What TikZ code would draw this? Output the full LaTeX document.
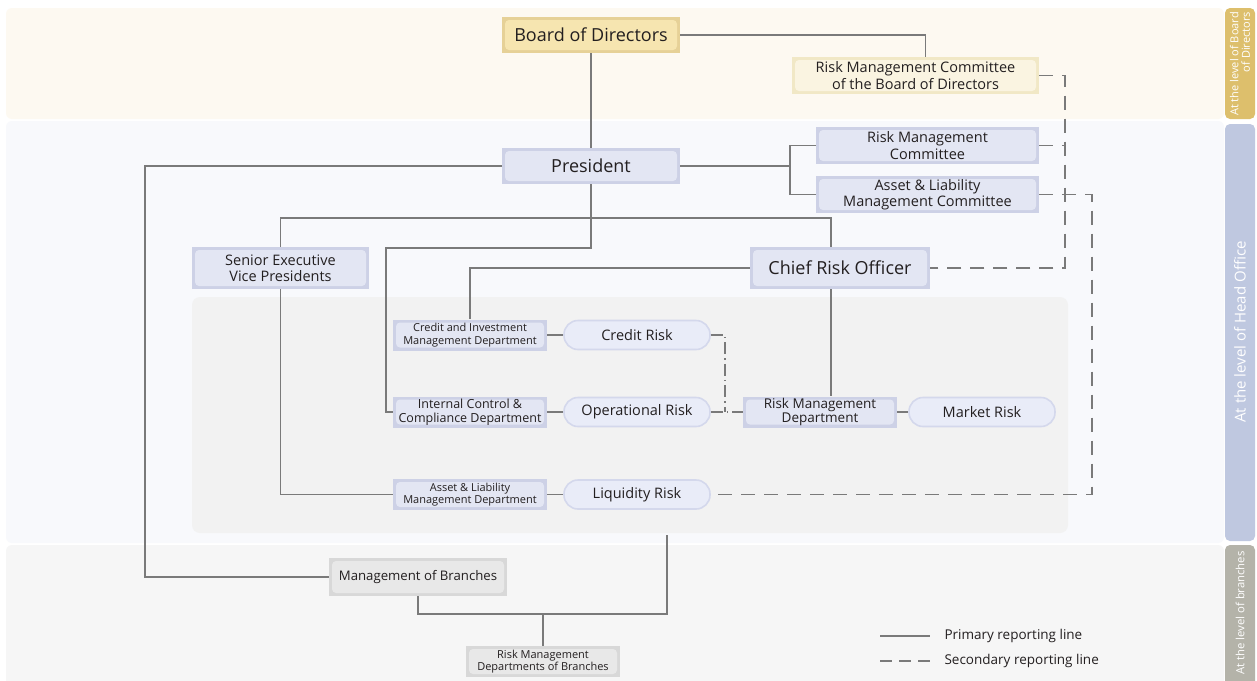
\documentclass[tikz,border=0pt]{standalone}
\usepackage{fontspec}
\setmainfont{Open Sans}
\usetikzlibrary{calc}
\definecolor{ink}{HTML}{231F20}
\definecolor{linegrey}{HTML}{7A7A7A}
\definecolor{bandtop}{HTML}{FDF9F1}
\definecolor{bandmid}{HTML}{F8F9FC}
\definecolor{bandbot}{HTML}{F6F6F6}
\definecolor{panel}{HTML}{F2F2F2}
\definecolor{tabtop}{HTML}{DDBF6C}
\definecolor{tabmid}{HTML}{BFC8E0}
\definecolor{tabbot}{HTML}{B4B3A9}
\definecolor{goldout}{HTML}{E6D197}
\definecolor{goldin}{HTML}{F6E5B0}
\definecolor{paleout}{HTML}{F1E8C6}
\definecolor{palein}{HTML}{FAF4E1}
\definecolor{blueout}{HTML}{CDD1E6}
\definecolor{bluein}{HTML}{E3E6F3}
\definecolor{pillfill}{HTML}{E9ECF8}
\definecolor{pillline}{HTML}{D4D8EC}
\definecolor{greyout}{HTML}{D8D8D8}
\definecolor{greyin}{HTML}{E8E8E8}
\tikzset{
  box/.style 2 args={fill=#1, text=ink, align=center, inner sep=0pt,
    path picture={\fill[#2, rounded corners=4pt]
      ([xshift=3pt,yshift=-3pt]path picture bounding box.north west) rectangle
      ([xshift=-3pt,yshift=3pt]path picture bounding box.south east);}},
  pill/.style={draw=pillline, line width=1.6pt, fill=pillfill, text=ink,
    rounded corners=14pt, minimum width=146pt, minimum height=29pt,
    inner sep=0pt, font=\fontsize{14.5}{17}\selectfont},
  pline/.style={draw=linegrey, line width=1.1pt},
  sline/.style={draw=linegrey, line width=1.1pt, dash pattern=on 14pt off 9pt},
  dline/.style={draw=linegrey, line width=1.1pt, dash pattern=on 12pt off 4pt on 1.5pt off 4pt},
  tabtext/.style={text=white, rotate=90, align=right},
  dept/.style={box={blueout}{bluein}, minimum width=154pt, minimum height=31pt,
    font=\fontsize{11}{12.5}\selectfont},
}
\begin{document}
\begin{tikzpicture}[x=1pt,y=-1pt]
\useasboundingbox (0,0) rectangle (1257,680);
\fill[white] (0,0) rectangle (1257,680);
% level bands
\fill[bandtop, rounded corners=6pt] (6,8) rectangle (1224,119);
\fill[bandmid, rounded corners=6pt] (6,121) rectangle (1224,543);
\fill[bandbot, rounded corners=6pt] (6,545) rectangle (1224,690);
\fill[panel, rounded corners=8pt] (192,297) rectangle (1068,533);
% level tabs
\fill[tabtop, rounded corners=5pt] (1225,8) rectangle (1255,119);
\fill[tabmid, rounded corners=5pt] (1225,124) rectangle (1255,541);
\fill[tabbot, rounded corners=5pt] (1225,545) rectangle (1255,690);
\node[tabtext, font=\fontsize{11}{11.5}\selectfont] (tabA) at (1240,64) {At the level of Board\\of Directors};
\node[tabtext, font=\fontsize{15}{15}\selectfont] (tabB) at (1240,332) {At the level of Head Office};
\node[tabtext, font=\fontsize{11.3}{12}\selectfont] (tabC) at (1240,613) {At the level of branches};

% nodes
\node[box={goldout}{goldin}, minimum width=178pt, minimum height=36pt,
  font=\fontsize{18}{20}\selectfont] (bod) at (591,35) {Board of Directors};
\node[box={paleout}{palein}, minimum width=247pt, minimum height=37pt,
  font=\fontsize{14.5}{16.5}\selectfont] (rmcb) at (915.5,75.5) {Risk Management Committee\\of the Board of Directors};
\node[box={blueout}{bluein}, minimum width=178pt, minimum height=36pt,
  font=\fontsize{18}{20}\selectfont] (pres) at (591,166) {President};
\node[box={blueout}{bluein}, minimum width=223pt, minimum height=37pt,
  font=\fontsize{14.5}{16.5}\selectfont] (rmc) at (927.5,145.5) {Risk Management\\Committee};
\node[box={blueout}{bluein}, minimum width=223pt, minimum height=37pt,
  font=\fontsize{14.5}{16.5}\selectfont] (almc) at (927.5,194.5) {Asset \& Liability\\Management Committee};
\node[box={blueout}{bluein}, minimum width=177pt, minimum height=42pt,
  font=\fontsize{14.5}{16.5}\selectfont] (sevp) at (280.5,268) {Senior Executive\\Vice Presidents};
\node[box={blueout}{bluein}, minimum width=180pt, minimum height=42pt,
  font=\fontsize{18}{20}\selectfont] (cro) at (840,268) {Chief Risk Officer};
\node[dept] (cimd) at (470,335) {Credit and Investment\\Management Department};
\node[pill] (crisk) at (637,335) {Credit Risk};
\node[dept, font=\fontsize{12.5}{13.5}\selectfont] (icc) at (470,412) {Internal Control \&\\Compliance Department};
\node[pill] (oprisk) at (637,412) {Operational Risk};
\node[dept, font=\fontsize{13.5}{14}\selectfont] (rmd) at (820,412) {Risk Management\\Department};
\node[pill] (mrisk) at (982,412) {Market Risk};
\node[dept] (almd) at (470,494.5) {Asset \& Liability\\Management Department};
\node[pill] (lrisk) at (637,494.5) {Liquidity Risk};
\node[box={greyout}{greyin}, minimum width=178pt, minimum height=38pt,
  font=\fontsize{13.2}{15}\selectfont] (mob) at (418,577) {Management of Branches};
\node[box={greyout}{greyin}, minimum width=154pt, minimum height=31pt,
  font=\fontsize{11}{12.5}\selectfont] (rmdb) at (543,661.5) {Risk Management\\Departments of Branches};

% junction points
\coordinate (pj) at (790,166);
\coordinate (icTurn) at (386,248);
\coordinate (hbar) at (831,218);
\coordinate (lt) at (145,166);
\coordinate (bj) at (667,614);
\coordinate (lq) at (667,535);
\coordinate (dA) at (1065,268);
\coordinate (dB) at (1092,194.5);
\coordinate (dc) at (725,335);

% primary reporting lines
\draw[pline] (bod.south) -- (pres.north);
\draw[pline] (bod.east) -| ([xshift=10pt]rmcb.north);
\draw[pline] (pres.east) -- (pj);
\draw[pline] (rmc.west) -| (pj) |- (almc.west);
\draw[pline] (pres.south) |- (icTurn) |- (icc.west);
\draw[pline] (sevp.north) |- (hbar) -- ([xshift=-9pt]cro.north);
\draw[pline] (sevp.south) |- (almd.west);
\draw[pline] (cro.west) -| (cimd.north);
\draw[pline] ([xshift=-9pt]cro.south) -- ([xshift=-9pt]cro.south |- rmd.north);
\draw[pline] (cimd) -- (crisk);
\draw[pline] (icc) -- (oprisk);
\draw[pline] (almd) -- (lrisk);
\draw[pline] (rmd) -- (mrisk);
\draw[pline] (pres.west) -- (lt) |- (mob.west);
\draw[pline] (mob.south) |- (bj) -- (lq);
\draw[pline] (rmdb.north) -- (rmdb.north |- bj);

% secondary reporting lines
\draw[sline] (rmcb.east) -| (dA) -- (cro.east);
\draw[sline] (rmc.east) -- (rmc.east -| dA);
\draw[sline] (almc.east) -- (dB) |- (lrisk.east);
\draw[dline] (crisk.east) -| (dc |- oprisk.east);
\draw[dline] (oprisk) -- (rmd);

% legend
\coordinate (lgA) at (880,636);
\coordinate (lgB) at (880,661);
\draw[pline] (lgA) -- ++(50,0) node[right=14pt, text=ink, font=\fontsize{13.5}{14}\selectfont, inner sep=0pt] (lgAt) {Primary reporting line};
\draw[pline, dash pattern=on 12pt off 7pt] (lgB) -- ++(50,0) node[right=14pt, text=ink, font=\fontsize{13.5}{14}\selectfont, inner sep=0pt] (lgBt) {Secondary reporting line};
\end{tikzpicture}
\end{document}
